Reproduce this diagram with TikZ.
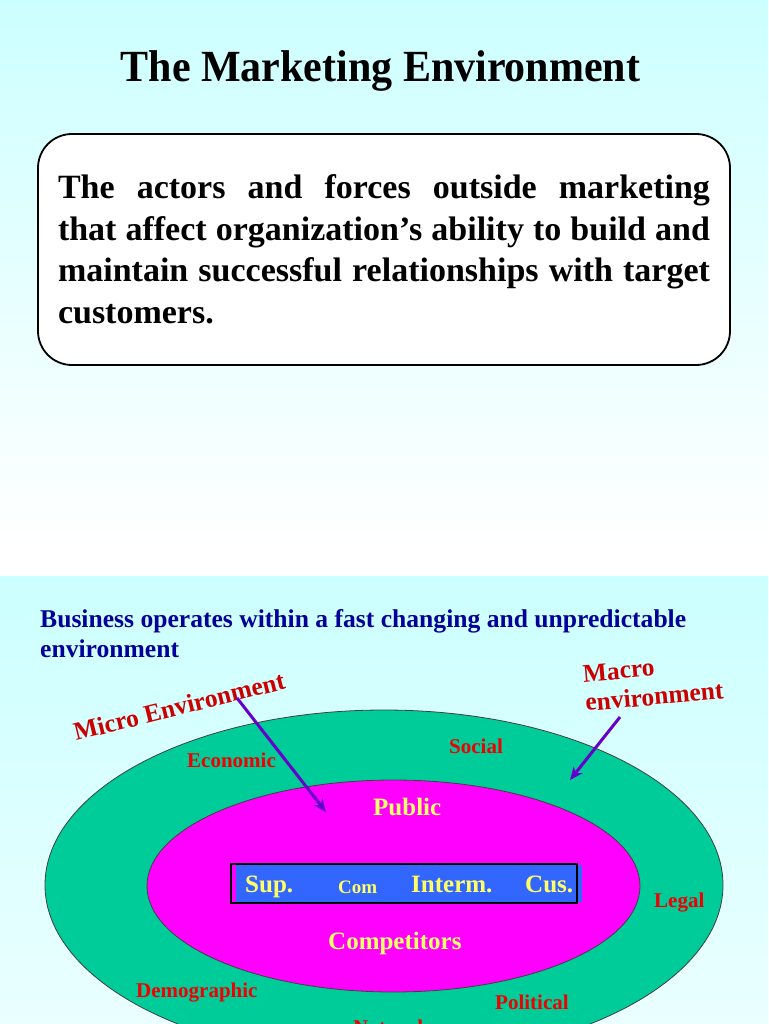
\documentclass[tikz,border=0pt]{standalone}
\usepackage{fontspec}
\setmainfont{Liberation Serif}
\usetikzlibrary{arrows.meta,positioning}
\definecolor{skytop}{HTML}{CCFFFF}
\definecolor{skylow}{HTML}{EAFFFF}
\definecolor{macrogreen}{HTML}{00CC99}
\definecolor{micropink}{HTML}{FF00FF}
\definecolor{corebox}{HTML}{3366FF}
\definecolor{actorylw}{HTML}{FFFF66}
\definecolor{forcered}{HTML}{F00000}
\definecolor{envred}{HTML}{CC0000}
\definecolor{leadblue}{HTML}{000099}
\definecolor{ptrpurple}{HTML}{6600CC}
\tikzset{
  >={Stealth[length=13pt,width=11pt]},
  % folie 1
  ttl/.style={font=\fontsize{42}{48}\selectfont\bfseries,inner sep=0pt,anchor=base},
  defbox/.style={draw=black,line width=1.8pt,fill=white,rounded corners=34pt,
                 minimum width=692pt,minimum height=231pt,inner xsep=20pt,
                 text width=652pt,align=justify,
                 font=\fontsize{34}{41.5}\selectfont\bfseries},
  % folie 2
  lead/.style={font=\fontsize{25.6}{30}\selectfont\bfseries,text=leadblue,
               inner sep=0pt,align=left},
  ring/.style={draw=black!75,line width=0.8pt},
  force/.style={font=\fontsize{21}{24}\selectfont\bfseries,text=forcered,
                inner sep=0pt,anchor=base west},
  actor/.style={font=\fontsize{25}{28}\selectfont\bfseries,text=actorylw,
                inner sep=0pt,anchor=base west},
  envlbl/.style={font=\fontsize{25.5}{29}\selectfont\bfseries,text=envred,
                 inner sep=0pt,align=left},
  ptr/.style={->,draw=ptrpurple,line width=3pt},
}
\begin{document}
\begin{tikzpicture}[x=1pt,y=-1pt]
  \clip (0,0) rectangle (768,1024);
  % hintergrund
  \shade[top color=skytop,bottom color=white] (0,0) rectangle (768,545);
  \fill[white] (0,545) rectangle (768,576);
  \shade[top color=skytop,bottom color=skylow] (0,576) rectangle (768,1024);

  \node[ttl,yscale=1.06] (title) at (380.5,82) {The Marketing Environment};
  \node[defbox] (def) at (384,249.5)
    {The actors and forces outside marketing that affect organization’s ability to build and maintain successful relationships with target customers.};

  \node[lead,anchor=north west] (lead) at (40,609)
    {Business operates within a fast changing and unpredictable\\environment};

  % ellipsen
  \draw[ring,fill=macrogreen] (384,885) ellipse [x radius=339,y radius=175];
  \draw[ring,fill=micropink] (393.5,886) ellipse [x radius=246.5,y radius=106];
  \fill[corebox] (236,865) rectangle (582,902);
  \draw[black,line width=1.2pt] (231,864) rectangle (577,903);

  \node[actor] (pub) at (373,815) {Public};
  \node[actor] (sup) at (245,892) {Sup.};
  \node[actor,font=\fontsize{19}{22}\selectfont\bfseries] (com) at (338,893) {Com};
  \node[actor] (interm) at (411,892) {Interm.};
  \node[actor] (cus) at (525,892) {Cus.};
  \node[actor] (compet) at (328,949) {Competitors};

  \node[force] (econ) at (187,767) {Economic};
  \node[force] (soc) at (449,753) {Social};
  \node[force] (legal) at (654,907) {Legal};
  \node[force] (demo) at (136,997) {Demographic};
  \node[force] (polit) at (495,1009) {Political};
  \node[force] (natur) at (353,1034) {Natural};

  \node[envlbl,anchor=base west,rotate=14] (micro) at (76,741) {Micro Environment};
  \node[envlbl,anchor=base west,rotate=5] (macro) at (586,711) {Macro\\environment};

  \coordinate (microtail) at (237,698);
  \coordinate (microtip) at (326,812);
  \coordinate (macrotail) at (620,717);
  \coordinate (macrotip) at (570,780);
  \draw[ptr] (microtail) -- (microtip);
  \draw[ptr] (macrotail) -- (macrotip);
\end{tikzpicture}
\end{document}
